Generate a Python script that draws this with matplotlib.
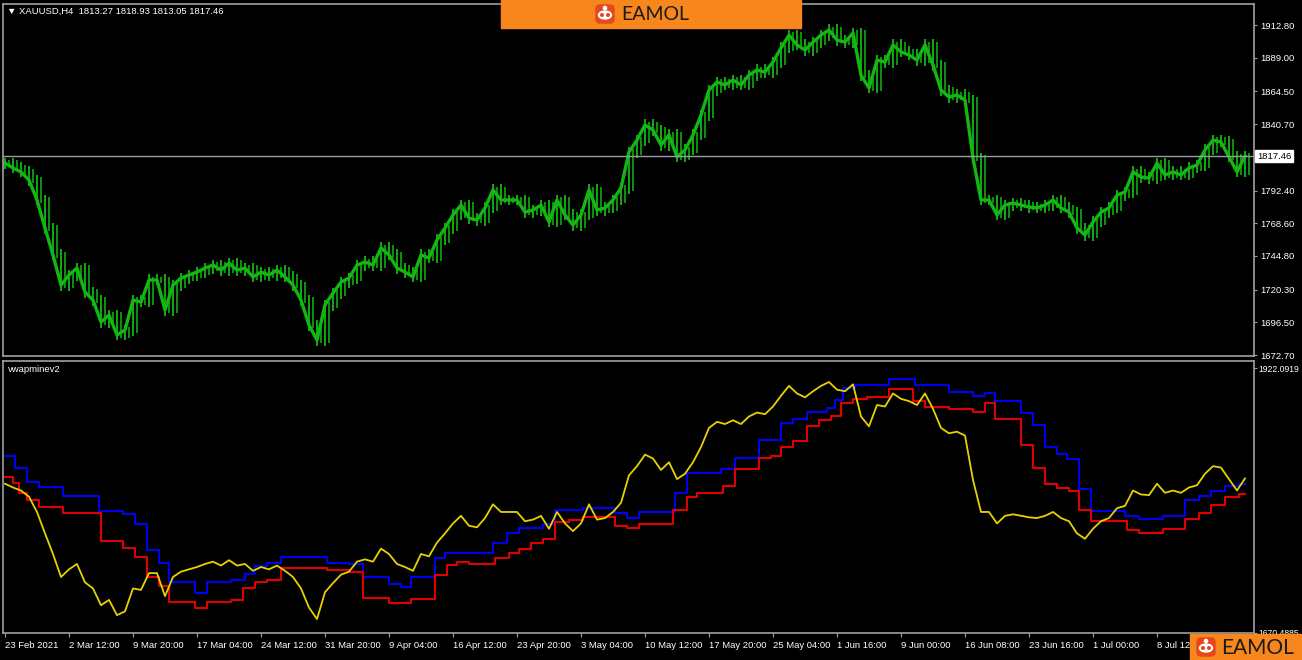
import numpy as np
import matplotlib.pyplot as plt
import matplotlib.transforms as mtransforms
from matplotlib.patches import Rectangle, FancyBboxPatch, Ellipse, Circle

plt.rcParams['font.family'] = ['Liberation Sans', 'DejaVu Sans']

# XAUUSD H4 close, one point every 4 bars
close = [
    1812.4, 1808.8, 1805.9, 1800.0, 1785.5, 1765.1, 1745.5, 1723.6, 1730.9, 1736.0,
    1718.5, 1712.7, 1696.7, 1701.8, 1687.3, 1690.9, 1712.7, 1711.3, 1727.3, 1727.3,
    1705.4, 1723.6, 1728.7, 1730.9, 1733.1, 1736.0, 1738.2, 1734.5, 1739.6, 1734.5,
    1736.0, 1729.5, 1733.1, 1730.9, 1734.5, 1729.5, 1723.6, 1712.7, 1694.5, 1683.6,
    1709.1, 1717.8, 1725.8, 1728.7, 1738.2, 1740.4, 1738.2, 1750.6, 1745.5, 1736.0,
    1733.1, 1729.5, 1745.5, 1743.3, 1756.4, 1765.1, 1774.6, 1781.8, 1772.4, 1770.9,
    1779.7, 1792.8, 1785.5, 1785.5, 1785.5, 1776.7, 1778.2, 1781.8, 1769.5, 1785.5,
    1774.6, 1767.3, 1774.6, 1792.8, 1778.2, 1779.7, 1785.5, 1794.2, 1820.4, 1829.1,
    1840.1, 1836.4, 1825.5, 1832.8, 1816.8, 1821.9, 1832.8, 1847.3, 1865.5, 1871.3,
    1869.2, 1872.8, 1869.2, 1876.4, 1880.1, 1878.6, 1885.9, 1896.1, 1905.5, 1898.3,
    1894.6, 1900.4, 1905.5, 1909.2, 1901.9, 1900.4, 1907.0, 1876.4, 1867.0, 1887.3,
    1885.9, 1898.3, 1893.2, 1891.0, 1887.3, 1898.3, 1883.7, 1865.5, 1860.4, 1861.9,
    1858.2, 1816.0, 1785.5, 1785.5, 1774.6, 1781.8, 1783.3, 1781.8, 1780.4, 1779.7,
    1781.8, 1785.5, 1779.7, 1776.7, 1765.1, 1760.0, 1769.5, 1776.7, 1779.7, 1789.1,
    1791.3, 1805.9, 1802.2, 1801.5, 1812.4, 1803.7, 1805.9, 1803.7, 1808.8, 1810.9,
    1821.9, 1829.1, 1827.7, 1816.8, 1805.9, 1817.46,
]
BARS_PER_PT = 4

# vwap step lines: bar index where each level starts
blue_start = [0, 5, 11, 17, 29, 47, 59, 65, 71, 77, 82, 95, 101, 113, 120, 125, 131, 138,
              161, 172, 179, 192, 198, 203, 215, 220, 244, 251, 257, 269, 275, 289, 305,
              311, 317, 335, 341, 358, 365, 377, 388, 394, 401, 411, 415, 419, 425, 442,
              455, 472, 484, 490, 495, 508, 514, 520, 526, 531, 537, 543, 560, 567, 579,
              590, 597, 603, 610, 617]
blue_level = [1838.8, 1827.4, 1814.0, 1809.3, 1800.7, 1786.4, 1783.6, 1774.1, 1749.3, 1736.9,
              1718.8, 1708.4, 1718.8, 1720.7, 1726.5, 1734.1, 1736.9, 1742.6, 1736.9, 1736.0,
              1723.6, 1716.9, 1714.1, 1723.6, 1741.7, 1746.4, 1756.0, 1765.5, 1770.2, 1774.1,
              1787.4, 1789.3, 1784.5, 1779.8, 1785.5, 1803.6, 1822.6, 1826.4, 1836.9, 1854.0,
              1870.2, 1874.0, 1880.7, 1884.5, 1892.1, 1903.5, 1906.4, 1912.1, 1906.4, 1899.7,
              1895.9, 1898.8, 1891.1, 1879.7, 1868.3, 1847.4, 1840.7, 1835.9, 1807.4, 1786.4,
              1781.7, 1778.8, 1781.7, 1796.9, 1800.7, 1805.5, 1810.2, 1812.1]
red_start = [0, 4, 7, 11, 17, 29, 48, 59, 65, 71, 77, 82, 95, 101, 113, 119, 125, 131, 138,
             161, 172, 179, 192, 203, 215, 221, 226, 232, 245, 252, 257, 263, 269, 275, 282,
             289, 305, 311, 317, 334, 341, 346, 359, 365, 377, 383, 388, 394, 401, 407, 413,
             418, 424, 431, 442, 454, 460, 472, 484, 490, 495, 508, 514, 520, 526, 532, 537,
             543, 561, 567, 579, 590, 597, 603, 610, 617]
red_level = [1818.8, 1813.1, 1803.6, 1796.9, 1790.2, 1784.5, 1757.9, 1751.2, 1742.6, 1723.6,
             1715.0, 1699.8, 1694.1, 1699.8, 1701.7, 1713.1, 1718.8, 1720.7, 1732.2, 1730.3,
             1728.4, 1703.6, 1698.8, 1702.7, 1725.5, 1735.0, 1737.9, 1736.0, 1741.7, 1746.4,
             1750.3, 1756.0, 1759.8, 1776.0, 1777.9, 1780.7, 1772.1, 1770.2, 1774.1, 1787.4,
             1799.8, 1803.6, 1810.2, 1826.4, 1836.9, 1838.8, 1847.4, 1853.1, 1867.3, 1873.1,
             1876.9, 1889.2, 1893.1, 1895.0, 1902.6, 1891.1, 1885.4, 1883.5, 1880.7, 1889.2,
             1874.0, 1849.3, 1827.4, 1812.1, 1808.3, 1805.5, 1787.4, 1776.9, 1768.3, 1765.5,
             1769.3, 1778.8, 1784.5, 1792.1, 1799.8, 1802.6]

date_labels = ['23 Feb 2021', '2 Mar 12:00', '9 Mar 20:00', '17 Mar 04:00', '24 Mar 12:00',
               '31 Mar 20:00', '9 Apr 04:00', '16 Apr 12:00', '23 Apr 20:00', '3 May 04:00',
               '10 May 12:00', '17 May 20:00', '25 May 04:00', '1 Jun 16:00', '9 Jun 00:00',
               '16 Jun 08:00', '23 Jun 16:00', '1 Jul 00:00', '8 Jul 12:00']
BARS_PER_LABEL = 32

price_ticks = [1912.80, 1889.00, 1864.50, 1840.70, 1792.40, 1768.60, 1744.80,
               1720.30, 1696.50, 1672.70]
last_price = 1817.46
header = '\u25BC XAUUSD,H4  1813.27 1818.93 1813.05 1817.46'
ind_name = 'vwapminev2'
ind_ticks = [1922.0919, 1670.4885]

GREEN = '#12b812'
GRID = '#a0a0a0'
W, H = 1302, 660
FS = 6.8

fig = plt.figure(figsize=(W / 100, H / 100), dpi=100, facecolor='black')


def box(x0, y0, x1, y1):
    return [x0 / W, 1 - y1 / H, (x1 - x0) / W, (y1 - y0) / H]


ax1 = fig.add_axes(box(3, 4, 1254, 356))
ax2 = fig.add_axes(box(3, 361, 1254, 633))

for ax in (ax1, ax2):
    ax.set_facecolor('black')
    for s in ax.spines.values():
        s.set_color(GRID)
        s.set_linewidth(1.2)
    ax.yaxis.tick_right()
    ax.tick_params(axis='y', colors=GRID, labelcolor='white', labelsize=FS,
                   length=2.5, pad=2)
    ax.set_xlim(-1, 624.5)

bars = np.arange(len(close)) * BARS_PER_PT
c = np.array(close)
prev = np.r_[c[0], c[:-1]]

# price panel: bar from previous close to close, plus wicks
ax1.plot(bars, c, color=GREEN, lw=2.4)
ax1.vlines(bars, np.minimum(prev, c) - 4, np.maximum(prev, c) + 4, color=GREEN, lw=1.3)
ax1.vlines(bars + 2, np.minimum(prev, c) - 2, np.maximum(prev, c) + 2, color=GREEN, lw=1.1)
ax1.axhline(last_price, color='#9a9aaa', lw=1)
ax1.set_ylim(1672.0, 1928.1)
ax1.set_yticks(price_ticks)
ax1.set_yticklabels(['%.2f' % v for v in price_ticks])
ax1.set_xticks([])
trans = mtransforms.blended_transform_factory(ax1.transAxes, ax1.transData)
ax1.text(1.0025, last_price, '%.2f' % last_price, transform=trans, ha='left', va='center',
         fontsize=FS, color='black',
         bbox=dict(boxstyle='square,pad=0.2', fc='white', ec='white'))

# indicator panel
def steps(ax, start, level, color):
    xs = list(start) + [bars[-1]]
    ys = list(level) + [level[-1]]
    ax.plot(xs, ys, drawstyle='steps-post', color=color, lw=1.5)


steps(ax2, blue_start, blue_level, '#0000f0')
steps(ax2, red_start, red_level, '#e00000')
ax2.plot(bars, c, color='#e6d200', lw=1.3)
ax2.set_ylim(1670.3, 1929.2)
ax2.set_yticks(ind_ticks)
ax2.set_yticklabels(['%.4f' % v for v in ind_ticks], fontsize=6.2)
ax2.tick_params(axis='y', pad=1)

xt = np.arange(len(date_labels)) * BARS_PER_LABEL
ax2.set_xticks(xt)
ax2.set_xticklabels(date_labels)
ax2.tick_params(axis='x', colors=GRID, labelcolor='white', labelsize=FS, length=3, pad=3)
for lab in ax2.get_xticklabels():
    lab.set_ha('left')

fig.text(7 / W, 1 - 11 / H, header, color='white', fontsize=FS, va='center')
fig.text(8 / W, 1 - 370 / H, ind_name, color='white', fontsize=FS, va='center')

# logo overlays in pixel coordinates
ov = fig.add_axes([0, 0, 1, 1], zorder=10)
ov.set_xlim(0, W)
ov.set_ylim(H, 0)
ov.axis('off')
ov.patch.set_alpha(0)


def logo(x0, y0, x1, y1, icon_x, text_x, size):
    cy = (y0 + y1) / 2
    ov.add_patch(Rectangle((x0, y0), x1 - x0, y1 - y0, color='#f7861c'))
    ov.add_patch(FancyBboxPatch((icon_x - 9, cy - 9), 18, 18,
                                boxstyle='round,pad=0,rounding_size=4', color='#e8461c'))
    ov.add_patch(Ellipse((icon_x, cy + 1), 13, 8, color='white'))
    ov.add_patch(Circle((icon_x, cy - 6), 1.6, color='white'))
    ov.add_patch(Circle((icon_x - 3, cy + 1), 1.3, color='#e8461c'))
    ov.add_patch(Circle((icon_x + 3, cy + 1), 1.3, color='#e8461c'))
    ov.text(text_x, cy + 1, 'EAMOL', fontsize=size, color='#1a1a1a', va='center',
            ha='left', family=['Lato', 'DejaVu Sans'])


logo(501, 0, 801, 28, 605, 621, 14)
logo(1190, 634, 1302, 660, 1206, 1221, 15)

fig.savefig('out.png', dpi=100, facecolor='black')
